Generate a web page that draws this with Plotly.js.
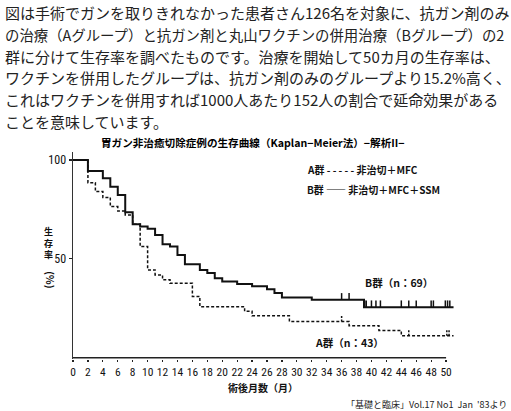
<!DOCTYPE html>
<html><head><meta charset="utf-8">
<script src="https://cdn.plot.ly/plotly-3.0.1.min.js"></script>
<style>html,body{margin:0;padding:0;background:#fff;} #chart{width:511px;height:411px;}</style>
</head><body><div id="chart"></div>
<script>
// ---- Data ----
const groupBTimes = [0, 2, 4, 5, 6, 7, 8, 9, 10, 11, 12, 13, 14, 15, 17, 18, 19, 20, 22, 24, 26, 27, 28, 32, 39];
const groupBSurv  = [100, 94.4, 90.7, 86.5, 82.3, 73.6, 67.5, 66.3, 65.2, 62.1, 57.4, 56.2, 52.0, 47.3, 44.4, 42.8, 40.2, 38.5, 37.3, 36.2, 34.7, 32.7, 30.5, 29.3, 25.6];
const groupBEnd = 51;
const groupBCensored = [36, 37, 39.1, 39.3, 40, 40.6, 41.2, 44, 45, 46, 48, 48.3, 49.9, 50.2, 50.5];

const groupATimes = [0, 2, 3, 4, 5, 6, 7, 8, 9, 10, 11, 12, 13, 16, 17, 23, 24, 29, 37, 41, 44];
const groupASurv  = [100, 88.5, 84.0, 81.0, 76.4, 74.2, 72.2, 67.5, 56.2, 44.4, 41.9, 39.5, 37.7, 31.0, 25.8, 23.5, 21.2, 18.3, 16.2, 13.8, 11.1];
const groupAEnd = 51;
const groupACensored = [36, 45, 50.1, 50.4];

const xTickVals = [0,2,4,6,8,10,12,14,16,18,20,22,24,26,28,30,32,34,36,38,40,42,44,46,48,50];
const xTickText = xTickVals.map(String);
const yTickVals = [50, 100];
const yTickText = ['50', '100'];

const chartTitle = '胃ガン非治癒切除症例の生存曲線（Kaplan−Meier法）−解析II−';
const xTitle = '術後月数（月）';
const yTitle = '生<br>存<br>率';
const yTitleUnit = '(%)';
const legendA = 'A群 - - - - - 非治切＋MFC';
const legendB = 'B群 ―― 非治切＋MFC＋SSM';
const labelB = 'B群（n：69）';
const labelA = 'A群（n：43）';
const sourceText = '「基礎と臨床」Vol.17 No1  Jan  \'83より';
const paragraph = [
  '図は手術でガンを取りきれなかった患者さん126名を対象に、抗ガン剤のみ',
  'の治療（Aグループ）と抗ガン剤と丸山ワクチンの併用治療（Bグループ）の2',
  '群に分けて生存率を調べたものです。治療を開始して50カ月の生存率は、',
  'ワクチンを併用したグループは、抗ガン剤のみのグループより15.2%高く、',
  'これはワクチンを併用すれば1000人あたり152人の割合で延命効果がある',
  'ことを意味しています。'
];

// ---- Helpers ----
function levelAt(times, surv, t) {
  let v = surv[0];
  for (let i = 0; i < times.length; i++) if (times[i] <= t) v = surv[i];
  return v;
}
function censorSegs(times, surv, cens, h) {
  const x = [], y = [];
  cens.forEach(t => { const v = levelAt(times, surv, t); x.push(t, t, null); y.push(v, v + h, null); });
  return {x, y};
}

const L = 72.5, W = 389, BOT = 359.2, PH = 207.1;
const TOP = BOT - PH;
const px = p => (p - L) / W;
const py = p => (BOT - p) / PH;

const ink = '#111';
const bSeg = censorSegs(groupBTimes, groupBSurv, groupBCensored, 3.4);
const aSeg = censorSegs(groupATimes, groupASurv, groupACensored, 3.6);

const traces = [
  {x: groupBTimes.concat([groupBEnd]), y: groupBSurv.concat([groupBSurv[groupBSurv.length-1]]),
   mode: 'lines', line: {shape: 'hv', color: ink, width: 2}, hoverinfo: 'skip', showlegend: false},
  {x: groupATimes.concat([groupAEnd]), y: groupASurv.concat([groupASurv[groupASurv.length-1]]),
   mode: 'lines', line: {shape: 'hv', color: ink, width: 1.5, dash: '3px,2px'}, hoverinfo: 'skip', showlegend: false},
  {x: bSeg.x, y: bSeg.y, mode: 'lines', line: {color: ink, width: 1.5}, hoverinfo: 'skip', showlegend: false},
  {x: aSeg.x, y: aSeg.y, mode: 'lines', line: {color: ink, width: 1.5, dash: '2px,1.5px'}, hoverinfo: 'skip', showlegend: false}
];

const narrow = '"Liberation Sans Narrow", "Roboto Condensed", "Liberation Sans", Arial, sans-serif';
const jp = '"Noto Sans CJK JP", "Noto Sans", sans-serif';

const annotations = [];
paragraph.forEach((line, i) => {
  const yc = [13, 35, 56.5, 78, 100, 122][i];
  const sz = (i === 1) ? 14.4 : 15;
  annotations.push({text: line, xref: 'paper', yref: 'paper', x: px(2), y: py(yc), xanchor: 'left', yanchor: 'middle',
    showarrow: false, font: {family: jp, size: sz, color: '#222'}});
});
annotations.push({text: '<b>' + chartTitle + '</b>', xref: 'paper', yref: 'paper', x: px(253), y: py(143),
  xanchor: 'center', yanchor: 'middle', showarrow: false, font: {family: jp, size: 10.6, color: '#000'}});
annotations.push({text: '<b>' + legendA + '</b>', xref: 'paper', yref: 'paper', x: px(305), y: py(170),
  xanchor: 'left', yanchor: 'middle', showarrow: false, font: {family: jp, size: 10, color: ink}});
annotations.push({text: '<b>' + legendB + '</b>', xref: 'paper', yref: 'paper', x: px(305), y: py(190),
  xanchor: 'left', yanchor: 'middle', showarrow: false, font: {family: jp, size: 10, color: ink}});
annotations.push({text: '<b>' + labelB + '</b>', xref: 'paper', yref: 'paper', x: px(399), y: py(283),
  xanchor: 'center', yanchor: 'middle', showarrow: false, font: {family: jp, size: 10.5, color: ink}});
annotations.push({text: '<b>' + labelA + '</b>', xref: 'paper', yref: 'paper', x: px(350), y: py(343),
  xanchor: 'center', yanchor: 'middle', showarrow: false, font: {family: jp, size: 10.5, color: ink}});
annotations.push({text: '<b>' + xTitle + '</b>', xref: 'paper', yref: 'paper', x: px(263), y: py(387.5),
  xanchor: 'center', yanchor: 'middle', showarrow: false, font: {family: jp, size: 10, color: ink}});
annotations.push({text: '<b>' + yTitle + '</b>', xref: 'paper', yref: 'paper', x: px(48), y: py(243.5),
  xanchor: 'center', yanchor: 'middle', showarrow: false, font: {family: jp, size: 9, color: ink}});
annotations.push({text: '<b>' + yTitleUnit + '</b>', xref: 'paper', yref: 'paper', x: px(50), y: py(280),
  xanchor: 'center', yanchor: 'middle', textangle: 90, showarrow: false, font: {family: jp, size: 10, color: ink}});
annotations.push({text: sourceText, xref: 'paper', yref: 'paper', x: px(510), y: py(405),
  xanchor: 'right', yanchor: 'middle', showarrow: false, font: {family: jp, size: 9, color: '#222'}});

const layout = {
  width: 511, height: 411,
  margin: {l: L, r: 511 - L - W, t: TOP, b: 411 - BOT, pad: 0},
  paper_bgcolor: '#fff', plot_bgcolor: '#fff',
  showlegend: false,
  xaxis: {range: [0, 52], tickvals: xTickVals, ticktext: xTickText, ticks: 'outside', ticklen: 2, tickwidth: 1.2,
    tickcolor: '#222', showline: false, showgrid: false, zeroline: false,
    tickfont: {family: narrow, size: 11.5, color: ink}},
  yaxis: {range: [-0.6, 104], tickvals: yTickVals, ticktext: yTickText, ticks: 'outside', ticklen: 3, tickwidth: 1.2,
    tickcolor: '#222', showline: true, linewidth: 1.5, linecolor: '#333', showgrid: false, zeroline: false,
    tickfont: {family: narrow, size: 12, color: ink}},
  shapes: [{type: 'line', xref: 'x', yref: 'y', x0: xTickVals[0], x1: xTickVals[xTickVals.length - 1], y0: 0, y1: 0,
    line: {color: '#222', width: 1.5}}],
  annotations: annotations
};

Plotly.newPlot('chart', traces, layout, {displayModeBar: false, staticPlot: true});
</script>
</body></html>
